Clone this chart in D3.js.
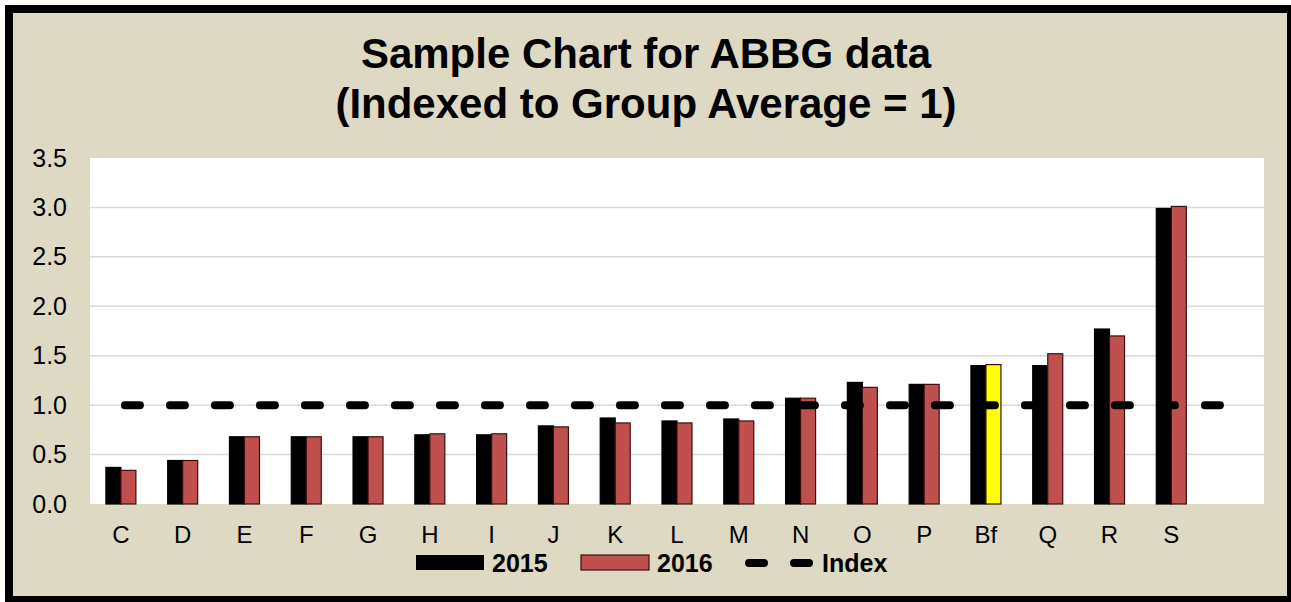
<!DOCTYPE html>
<html lang="en">
<head>
    <meta charset="UTF-8">
    <title>Sample Chart for ABBG data</title>
    <script src="https://d3js.org/d3.v7.min.js"></script>
    <style>
        body { margin: 0; overflow: hidden; background: #fff; }
        svg { display: block; }
        text { font-family: "Liberation Sans", Arial, sans-serif; fill: #000; }
    </style>
</head>
<body>
    <script>
    // data
    const categories = ["C", "D", "E", "F", "G", "H", "I", "J", "K", "L", "M", "N", "O", "P", "Bf", "Q", "R", "S", ""];
    const values2015 = [0.37, 0.44, 0.68, 0.68, 0.68, 0.70, 0.70, 0.79, 0.87, 0.84, 0.86, 1.07, 1.23, 1.21, 1.40, 1.40, 1.77, 2.99, null];
    const values2016 = [0.34, 0.44, 0.68, 0.68, 0.68, 0.71, 0.71, 0.78, 0.82, 0.82, 0.84, 1.07, 1.18, 1.21, 1.41, 1.52, 1.70, 3.01, null];
    const indexValues = [1, 1, 1, 1, 1, 1, 1, 1, 1, 1, 1, 1, 1, 1, 1, 1, 1, 1, 1];
    const yTicks = [0, 0.5, 1.0, 1.5, 2.0, 2.5, 3.0, 3.5];
    const highlight = "Bf";
    const seriesNames = ["2015", "2016"];
    const titleLines = ["Sample Chart for ABBG data", "(Indexed to Group Average = 1)"];

    const width = 1291, height = 602;
    const plot = { left: 90, right: 1264, top: 158, bottom: 504 };

    const svg = d3.select("body").append("svg")
      .attr("width", width)
      .attr("height", height);

    svg.append("rect")
      .attr("x", 9).attr("y", 9)
      .attr("width", 1282).attr("height", 591)
      .attr("fill", "#DDD9C3")
      .attr("stroke", "#000")
      .attr("stroke-width", 8);

    const x = d3.scaleBand()
      .domain(categories)
      .range([plot.left, plot.right])
      .paddingInner(0)
      .paddingOuter(0);

    const groupW = x.bandwidth() / 2.06;
    const x1 = d3.scaleBand()
      .domain(seriesNames)
      .range([0, groupW]);

    const y = d3.scaleLinear()
      .domain([0, 3.5])
      .range([plot.bottom, plot.top]);

    svg.append("rect")
      .attr("x", plot.left).attr("y", plot.top)
      .attr("width", plot.right - plot.left)
      .attr("height", plot.bottom - plot.top)
      .attr("fill", "#fff");

    // gridlines
    svg.append("g")
      .selectAll("line")
      .data(yTicks.filter(t => t > 0 && t < 3.5))
      .join("line")
      .attr("x1", plot.left).attr("x2", plot.right)
      .attr("y1", d => y(d)).attr("y2", d => y(d))
      .attr("stroke", "#D9D9D9")
      .attr("stroke-width", 1.5);

    // y axis labels
    const yAxis = svg.append("g")
      .attr("transform", `translate(${plot.left},0)`)
      .call(d3.axisLeft(y).tickValues(yTicks).tickFormat(d3.format(".1f")).tickSize(0).tickPadding(23));
    yAxis.select(".domain").remove();
    yAxis.selectAll("text")
      .attr("font-size", 25)
      .attr("font-family", "Liberation Sans, Arial, sans-serif")
      .attr("fill", "#222");

    // x axis labels
    const xAxis = svg.append("g")
      .attr("transform", `translate(0,${plot.bottom})`)
      .call(d3.axisBottom(x).tickSize(0).tickPadding(22));
    xAxis.select(".domain").remove();
    xAxis.selectAll("text")
      .attr("font-size", 24)
      .attr("font-family", "Liberation Sans, Arial, sans-serif")
      .attr("fill", "#222");

    // bars
    const rows = categories.map((c, i) => ({ cat: c, v: [values2015[i], values2016[i]] }));
    const groups = svg.append("g")
      .selectAll("g")
      .data(rows.filter(r => r.v[0] != null))
      .join("g")
      .attr("transform", d => `translate(${x(d.cat) + (x.bandwidth() - groupW) / 2},0)`);

    groups.selectAll("rect")
      .data(d => seriesNames.map((s, j) => ({ cat: d.cat, s: s, v: d.v[j] })))
      .join("rect")
      .attr("x", d => x1(d.s))
      .attr("y", d => y(d.v))
      .attr("width", x1.bandwidth())
      .attr("height", d => y(0) - y(d.v))
      .attr("fill", d => d.s === "2015" ? "#000" : (d.cat === highlight ? "#FFFF00" : "#C0504D"))
      .attr("stroke", d => d.s === "2015" ? "#000" : "#3a1010")
      .attr("stroke-width", 1.2);

    // index line
    const line = d3.line()
      .x((d, i) => x(categories[i]) + x.bandwidth() / 2)
      .y(d => y(d));

    svg.append("path")
      .datum(indexValues)
      .attr("d", line)
      .attr("fill", "none")
      .attr("stroke", "#000")
      .attr("stroke-width", 8)
      .attr("stroke-linecap", "round")
      .attr("stroke-dasharray", "15,30")
      .attr("transform", "translate(4,0)");

    // title
    svg.append("g")
      .selectAll("text")
      .data(titleLines)
      .join("text")
      .attr("x", 646)
      .attr("y", (d, i) => 68 + i * 50)
      .attr("text-anchor", "middle")
      .attr("font-size", 42)
      .attr("font-weight", "bold")
      .text(d => d);

    // legend
    const legend = svg.append("g");
    legend.append("rect")
      .attr("x", 416).attr("y", 555).attr("width", 68).attr("height", 15)
      .attr("fill", "#000");
    legend.append("text")
      .attr("x", 492).attr("y", 572)
      .attr("font-size", 25).attr("font-weight", "bold")
      .text(seriesNames[0]);
    legend.append("rect")
      .attr("x", 581).attr("y", 555).attr("width", 68).attr("height", 15)
      .attr("fill", "#C0504D").attr("stroke", "#3a1010").attr("stroke-width", 1.2);
    legend.append("text")
      .attr("x", 657).attr("y", 572)
      .attr("font-size", 25).attr("font-weight", "bold")
      .text(seriesNames[1]);
    legend.append("line")
      .attr("x1", 749).attr("x2", 809)
      .attr("y1", 563).attr("y2", 563)
      .attr("stroke", "#000").attr("stroke-width", 8)
      .attr("stroke-linecap", "round")
      .attr("stroke-dasharray", "15,30");
    legend.append("text")
      .attr("x", 822).attr("y", 572)
      .attr("font-size", 25).attr("font-weight", "bold")
      .text("Index");
    </script>
</body>
</html>
